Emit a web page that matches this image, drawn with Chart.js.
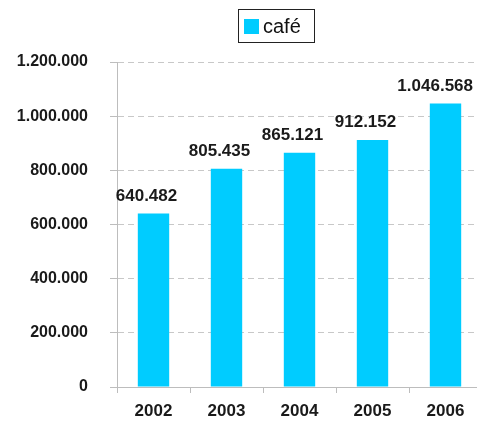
<!DOCTYPE html>
<html>
<head>
<meta charset="utf-8">
<script src="https://cdn.jsdelivr.net/npm/chart.js@4/dist/chart.umd.min.js"></script>
<style>
  body { margin: 0; background: #fff; }
  canvas { display: block; }
</style>
</head>
<body>
<canvas id="coffeeChart" width="477" height="421"></canvas>
<script>
var years = ['2002', '2003', '2004', '2005', '2006'];
var cafeValues = [640482, 805435, 865121, 912152, 1046568];
var seriesLabel = 'café';
var barColor = '#00CCFF';
var yTicks = [0, 200000, 400000, 600000, 800000, 1000000, 1200000];

var FONT = 'Arial, "Liberation Sans", sans-serif';

// 1046568 -> "1.046.568"
function dots(n) {
  return String(Math.round(n)).replace(/\B(?=(\d{3})+(?!\d))/g, '.');
}

// plot area runs a little past the right edge of the canvas
var bleedRight = {
  id: 'bleedRight',
  afterLayout: function(chart) {
    var extra = 5;
    var x = chart.scales.x;
    chart.chartArea.right += extra;
    chart.chartArea.width += extra;
    x.right += extra;
    x.width += extra;
    x.configure();
  }
};

// value labels above each bar
var valueLabels = {
  id: 'valueLabels',
  afterDatasetsDraw: function(chart) {
    var ctx = chart.ctx;
    var meta = chart.getDatasetMeta(0);
    ctx.save();
    ctx.font = 'bold 17px ' + FONT;
    ctx.fillStyle = '#1a1a1a';
    ctx.textAlign = 'left';
    ctx.textBaseline = 'alphabetic';
    meta.data.forEach(function(bar, i) {
      var txt = dots(chart.data.datasets[0].data[i]);
      var w = ctx.measureText(txt).width;
      var x = bar.x - 7 - w / 2;
      if (x + w > chart.width - 4) x = chart.width - 4 - w;
      ctx.fillText(txt, x, bar.y - 13);
    });
    ctx.restore();
  }
};

// boxed legend at the top
var boxLegend = {
  id: 'boxLegend',
  afterDraw: function(chart) {
    var ctx = chart.ctx;
    var ds = chart.data.datasets[0];
    ctx.save();
    ctx.strokeStyle = '#222';
    ctx.lineWidth = 1;
    ctx.strokeRect(238.5, 9.5, 76, 33);
    ctx.fillStyle = ds.backgroundColor;
    ctx.fillRect(244, 19, 15, 15);
    ctx.font = '20px ' + FONT;
    ctx.fillStyle = '#111';
    ctx.textBaseline = 'alphabetic';
    ctx.fillText(ds.label, 263, 33);
    ctx.restore();
  }
};

new Chart(document.getElementById('coffeeChart'), {
  type: 'bar',
  data: {
    labels: years,
    datasets: [{
      label: seriesLabel,
      data: cafeValues,
      backgroundColor: barColor,
      borderWidth: 0,
      categoryPercentage: 1,
      barPercentage: 0.43
    }]
  },
  options: {
    responsive: false,
    animation: false,
    layout: { padding: { top: 62, left: 16, right: 0, bottom: 0 } },
    plugins: {
      legend: { display: false },
      tooltip: { enabled: false }
    },
    scales: {
      x: {
        offset: true,
        afterFit: function(s) {
          s.height = 34;
          s.paddingLeft = 0;
          s.paddingRight = 0;
        },
        grid: {
          display: true,
          drawOnChartArea: false,
          drawTicks: true,
          tickLength: 6,
          color: '#bdbdbd',
          offset: true
        },
        border: { color: '#bdbdbd', width: 1 },
        ticks: {
          padding: 8,
          color: '#1a1a1a',
          font: { family: FONT, size: 17, weight: 'bold' }
        }
      },
      y: {
        min: 0,
        max: 1200000,
        afterBuildTicks: function(scale) {
          scale.ticks = yTicks.map(function(v) { return { value: v }; });
        },
        afterFit: function(s) {
          s.width = 101;
          s.paddingTop = 0;
          s.paddingBottom = 0;
        },
        grid: {
          color: '#c8c8c8',
          tickLength: 7,
          tickColor: '#bdbdbd',
          tickBorderDash: []
        },
        border: { color: '#bdbdbd', width: 1, dash: [6, 4] },
        ticks: {
          padding: 22,
          color: '#1a1a1a',
          font: { family: FONT, size: 16, weight: 'bold' },
          callback: function(v) { return dots(v); }
        }
      }
    }
  },
  plugins: [bleedRight, valueLabels, boxLegend]
});
</script>
</body>
</html>
